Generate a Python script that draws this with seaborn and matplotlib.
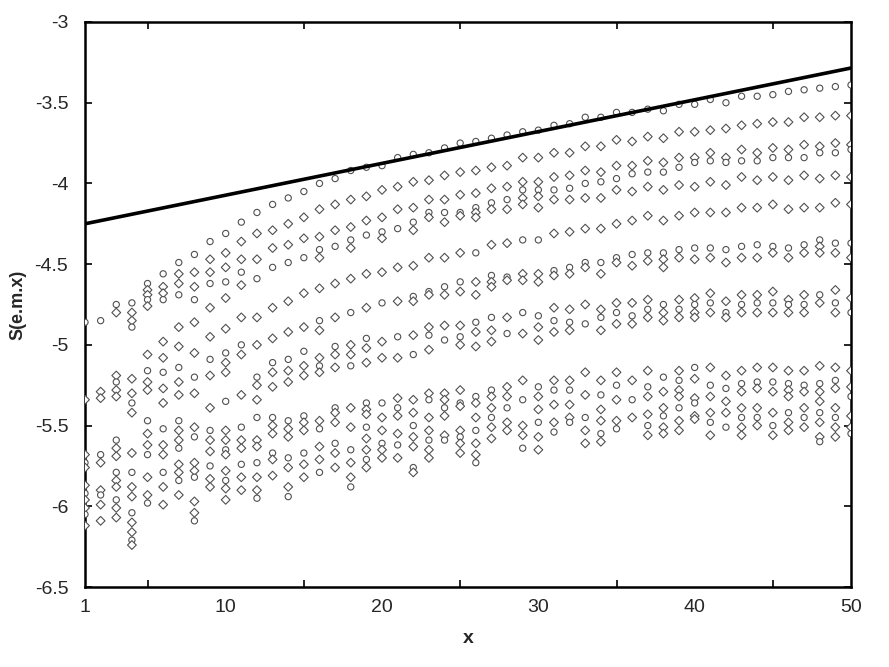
import matplotlib
matplotlib.use("Agg")
import matplotlib.pyplot as plt
import seaborn as sns
import pandas as pd
from matplotlib.ticker import MultipleLocator, FixedLocator

# ---- data (y values per integer x) ----
col_01 = [-4.86, -5.34, -5.68, -5.73, -5.76, -5.87, -5.92, -5.96, -6.01, -6.05, -6.12]
col_02 = [-4.85, -5.29, -5.33, -5.68, -5.73, -5.90, -5.93, -5.99, -6.09]
col_03 = [-4.75, -4.80, -5.19, -5.23, -5.28, -5.32, -5.59, -5.64, -5.69, -5.79, -5.84, -5.88, -5.96, -6.01, -6.07]
col_04 = [-4.74, -4.80, -4.85, -4.89, -5.21, -5.30, -5.36, -5.42, -5.67, -5.79, -5.88, -5.94, -6.04, -6.10, -6.16, -6.21, -6.24]
col_05 = [-4.62, -4.66, -4.69, -4.72, -4.76, -5.06, -5.16, -5.23, -5.28, -5.47, -5.55, -5.62, -5.68, -5.82, -5.93, -5.98]
col_06 = [-4.56, -4.64, -4.68, -4.72, -4.98, -5.08, -5.17, -5.27, -5.36, -5.52, -5.62, -5.68, -5.79, -5.88, -5.99]
col_07 = [-4.49, -4.56, -4.62, -4.69, -4.89, -5.01, -5.14, -5.23, -5.31, -5.47, -5.53, -5.59, -5.64, -5.74, -5.79, -5.84, -5.93]
col_08 = [-4.44, -4.55, -4.64, -4.72, -4.86, -5.05, -5.20, -5.30, -5.51, -5.57, -5.73, -5.78, -5.82, -5.97, -6.04, -6.09]
col_09 = [-4.36, -4.47, -4.55, -4.62, -4.77, -4.95, -5.09, -5.19, -5.39, -5.53, -5.59, -5.66, -5.75, -5.83, -5.88]
col_10 = [-4.31, -4.43, -4.52, -4.61, -4.71, -4.90, -5.05, -5.11, -5.17, -5.35, -5.53, -5.59, -5.65, -5.68, -5.78, -5.84, -5.89, -5.96]
col_11 = [-4.24, -4.36, -4.47, -4.55, -4.63, -4.83, -5.00, -5.06, -5.31, -5.51, -5.59, -5.64, -5.74, -5.82, -5.90]
col_12 = [-4.18, -4.31, -4.47, -4.59, -4.83, -5.00, -5.20, -5.25, -5.34, -5.45, -5.59, -5.63, -5.73, -5.82, -5.90, -5.95]
col_13 = [-4.13, -4.29, -4.40, -4.52, -4.77, -4.96, -5.11, -5.17, -5.26, -5.45, -5.50, -5.55, -5.67, -5.71, -5.81]
col_14 = [-4.09, -4.25, -4.38, -4.49, -4.73, -4.92, -5.09, -5.16, -5.23, -5.47, -5.52, -5.57, -5.70, -5.76, -5.88, -5.94]
col_15 = [-4.05, -4.21, -4.34, -4.46, -4.68, -4.89, -5.04, -5.13, -5.19, -5.44, -5.48, -5.53, -5.67, -5.74, -5.82]
col_16 = [-4.00, -4.16, -4.33, -4.41, -4.46, -4.65, -4.85, -4.91, -5.08, -5.13, -5.17, -5.47, -5.52, -5.63, -5.71, -5.79]
col_17 = [-3.97, -4.13, -4.29, -4.39, -4.62, -4.83, -5.01, -5.06, -5.14, -5.39, -5.42, -5.48, -5.61, -5.67, -5.76]
col_18 = [-3.92, -4.10, -4.27, -4.35, -4.40, -4.59, -4.80, -5.00, -5.06, -5.13, -5.39, -5.51, -5.65, -5.73, -5.82, -5.88]
col_19 = [-3.90, -4.08, -4.23, -4.32, -4.56, -4.77, -4.96, -5.02, -5.11, -5.36, -5.40, -5.43, -5.51, -5.58, -5.65, -5.71, -5.76]
col_20 = [-3.89, -4.04, -4.21, -4.30, -4.34, -4.55, -4.74, -4.98, -5.08, -5.36, -5.45, -5.53, -5.61, -5.65, -5.70]
col_21 = [-3.84, -4.02, -4.16, -4.28, -4.52, -4.73, -4.95, -5.08, -5.33, -5.39, -5.44, -5.55, -5.62, -5.70]
col_22 = [-3.82, -3.99, -4.15, -4.24, -4.29, -4.51, -4.70, -4.73, -4.94, -5.06, -5.34, -5.42, -5.50, -5.57, -5.63, -5.76, -5.79]
col_23 = [-3.81, -3.98, -4.10, -4.18, -4.21, -4.46, -4.67, -4.69, -4.89, -4.94, -5.03, -5.30, -5.34, -5.45, -5.53, -5.59, -5.65, -5.70]
col_24 = [-3.78, -3.95, -4.10, -4.18, -4.24, -4.46, -4.64, -4.69, -4.88, -4.97, -5.30, -5.34, -5.39, -5.44, -5.56, -5.59]
col_25 = [-3.75, -3.93, -4.07, -4.18, -4.20, -4.43, -4.61, -4.67, -4.88, -4.95, -5.00, -5.28, -5.36, -5.38, -5.53, -5.57, -5.61, -5.67]
col_26 = [-3.74, -3.92, -4.06, -4.15, -4.18, -4.21, -4.43, -4.61, -4.69, -4.86, -4.92, -5.01, -5.32, -5.36, -5.45, -5.53, -5.61, -5.68, -5.73]
col_27 = [-3.72, -3.90, -4.03, -4.12, -4.16, -4.38, -4.57, -4.61, -4.64, -4.83, -4.91, -4.98, -5.28, -5.32, -5.39, -5.45, -5.51, -5.58]
col_28 = [-3.70, -3.89, -4.02, -4.10, -4.16, -4.37, -4.58, -4.60, -4.83, -4.93, -5.26, -5.32, -5.39, -5.48, -5.53]
col_29 = [-3.68, -3.84, -3.99, -4.04, -4.09, -4.13, -4.35, -4.56, -4.60, -4.80, -4.93, -5.22, -5.34, -5.50, -5.56, -5.64]
col_30 = [-3.67, -3.84, -3.99, -4.04, -4.08, -4.15, -4.35, -4.56, -4.61, -4.82, -4.89, -4.97, -5.26, -5.32, -5.40, -5.48, -5.57, -5.65]
col_31 = [-3.64, -3.81, -3.96, -4.04, -4.10, -4.31, -4.54, -4.57, -4.77, -4.85, -4.92, -5.22, -5.28, -5.37, -5.48, -5.54]
col_32 = [-3.63, -3.81, -3.95, -4.03, -4.10, -4.30, -4.52, -4.56, -4.78, -4.86, -4.91, -5.22, -5.28, -5.37, -5.45, -5.48]
col_33 = [-3.59, -3.77, -3.92, -4.00, -4.09, -4.28, -4.49, -4.52, -4.75, -4.87, -5.17, -5.31, -5.45, -5.53, -5.61]
col_34 = [-3.59, -3.77, -3.93, -3.99, -4.09, -4.28, -4.49, -4.56, -4.78, -4.83, -4.91, -5.22, -5.31, -5.40, -5.47, -5.55, -5.60]
col_35 = [-3.56, -3.73, -3.89, -3.97, -4.04, -4.25, -4.46, -4.49, -4.74, -4.80, -4.87, -5.17, -5.25, -5.34, -5.47, -5.52]
col_36 = [-3.56, -3.74, -3.89, -3.94, -4.05, -4.23, -4.44, -4.51, -4.74, -4.82, -4.87, -5.22, -5.34, -5.45]
col_37 = [-3.54, -3.71, -3.86, -3.93, -4.02, -4.20, -4.43, -4.48, -4.72, -4.78, -4.83, -5.16, -5.26, -5.32, -5.43, -5.50, -5.56]
col_38 = [-3.55, -3.72, -3.87, -3.93, -4.04, -4.23, -4.43, -4.47, -4.52, -4.75, -4.80, -4.85, -5.20, -5.29, -5.39, -5.44, -5.51, -5.55]
col_39 = [-3.51, -3.68, -3.84, -3.90, -4.01, -4.20, -4.41, -4.46, -4.72, -4.78, -4.83, -5.16, -5.22, -5.28, -5.32, -5.39, -5.47, -5.53]
col_40 = [-3.51, -3.68, -3.84, -3.87, -4.02, -4.18, -4.40, -4.47, -4.71, -4.75, -4.80, -4.83, -5.14, -5.21, -5.33, -5.36, -5.44, -5.46]
col_41 = [-3.48, -3.67, -3.81, -3.86, -3.99, -4.18, -4.40, -4.46, -4.68, -4.74, -4.80, -5.14, -5.25, -5.32, -5.42, -5.48, -5.56]
col_42 = [-3.50, -3.66, -3.84, -3.87, -4.01, -4.18, -4.41, -4.49, -4.73, -4.80, -4.83, -5.19, -5.27, -5.35, -5.42, -5.51]
col_43 = [-3.46, -3.64, -3.79, -3.86, -3.96, -4.15, -4.39, -4.46, -4.69, -4.75, -4.80, -5.16, -5.24, -5.29, -5.39, -5.45, -5.51, -5.56]
col_44 = [-3.46, -3.63, -3.81, -3.86, -3.98, -4.15, -4.38, -4.46, -4.69, -4.74, -4.80, -5.14, -5.23, -5.27, -5.39, -5.45, -5.50]
col_45 = [-3.45, -3.62, -3.78, -3.84, -3.96, -4.13, -4.39, -4.43, -4.67, -4.74, -4.80, -5.14, -5.23, -5.29, -5.42, -5.50, -5.56]
col_46 = [-3.43, -3.62, -3.79, -3.84, -3.98, -4.16, -4.40, -4.46, -4.72, -4.75, -4.80, -5.16, -5.24, -5.28, -5.32, -5.42, -5.48, -5.53]
col_47 = [-3.42, -3.59, -3.76, -3.84, -3.95, -4.15, -4.38, -4.43, -4.69, -4.75, -4.80, -5.16, -5.25, -5.29, -5.39, -5.45, -5.51]
col_48 = [-3.41, -3.59, -3.77, -3.81, -3.97, -4.15, -4.35, -4.39, -4.43, -4.69, -4.74, -5.13, -5.24, -5.29, -5.35, -5.42, -5.48, -5.57, -5.60]
col_49 = [-3.40, -3.58, -3.75, -3.81, -3.95, -4.12, -4.37, -4.43, -4.66, -4.74, -4.80, -5.14, -5.22, -5.27, -5.39, -5.45, -5.51, -5.57]
col_50 = [-3.39, -3.58, -3.76, -3.79, -3.96, -4.13, -4.37, -4.46, -4.71, -4.80, -5.16, -5.26, -5.32, -5.44, -5.51, -5.55]

columns = [col_01, col_02, col_03, col_04, col_05, col_06, col_07, col_08, col_09, col_10,
           col_11, col_12, col_13, col_14, col_15, col_16, col_17, col_18, col_19, col_20,
           col_21, col_22, col_23, col_24, col_25, col_26, col_27, col_28, col_29, col_30,
           col_31, col_32, col_33, col_34, col_35, col_36, col_37, col_38, col_39, col_40,
           col_41, col_42, col_43, col_44, col_45, col_46, col_47, col_48, col_49, col_50]

bound_x = [1, 50]
bound_y = [-4.25, -3.285]

x_ticklabels = ["1", "10", "20", "30", "40", "50"]
x_tickvals = [1, 10, 20, 30, 40, 50]
y_tickvals = [-3, -3.5, -4, -4.5, -5, -5.5, -6, -6.5]
y_ticklabels = ["-3", "-3.5", "-4", "-4.5", "-5", "-5.5", "-6", "-6.5"]

rows = []
for i, col in enumerate(columns):
    for j, v in enumerate(col):
        rows.append({"x": i + 1, "y": v, "kind": "d" if j % 3 else "o"})
df = pd.DataFrame(rows)
line_df = pd.DataFrame({"x": bound_x, "y": bound_y})

# ---- figure ----
sns.set_theme(style="white")
plt.rcParams["font.family"] = ["Liberation Sans", "DejaVu Sans"]

fig = plt.figure(figsize=(8.89, 6.67), dpi=100)
ax = fig.add_axes([85 / 889, 1 - 587 / 667, (851 - 85) / 889, (587 - 22) / 667])

sns.scatterplot(data=df, x="x", y="y", style="kind", markers={"d": "D", "o": "o"},
                s=20, facecolor="white", edgecolor="#505050", linewidth=0.8,
                legend=False, ax=ax, zorder=3)
sns.lineplot(data=line_df, x="x", y="y", color="black", linewidth=2.6, ax=ax, zorder=4)

ax.set_xlim(1, 50)
ax.set_ylim(-6.5, -3)
ax.xaxis.set_major_locator(FixedLocator(x_tickvals))
ax.set_xticklabels(x_ticklabels)
ax.xaxis.set_minor_locator(MultipleLocator(5))
ax.set_yticks(y_tickvals)
ax.set_yticklabels(y_ticklabels)

for sp in ax.spines.values():
    sp.set_visible(True)
    sp.set_color("black")
    sp.set_linewidth(1.8)

ax.tick_params(axis="both", which="both", direction="in", color="black",
               top=True, right=True, bottom=True, left=True)
ax.tick_params(axis="x", which="major", length=0, labelsize=14, pad=9)
ax.tick_params(axis="x", which="minor", length=5, width=1.2)
ax.tick_params(axis="y", which="major", length=5, width=1.2, labelsize=14, pad=12)

ax.set_xlabel("x", fontsize=14, fontweight="bold", labelpad=10)
ax.set_ylabel("S(e.m.x)", fontsize=13, fontweight="bold", labelpad=6)

fig.savefig("out.png", dpi=100)
